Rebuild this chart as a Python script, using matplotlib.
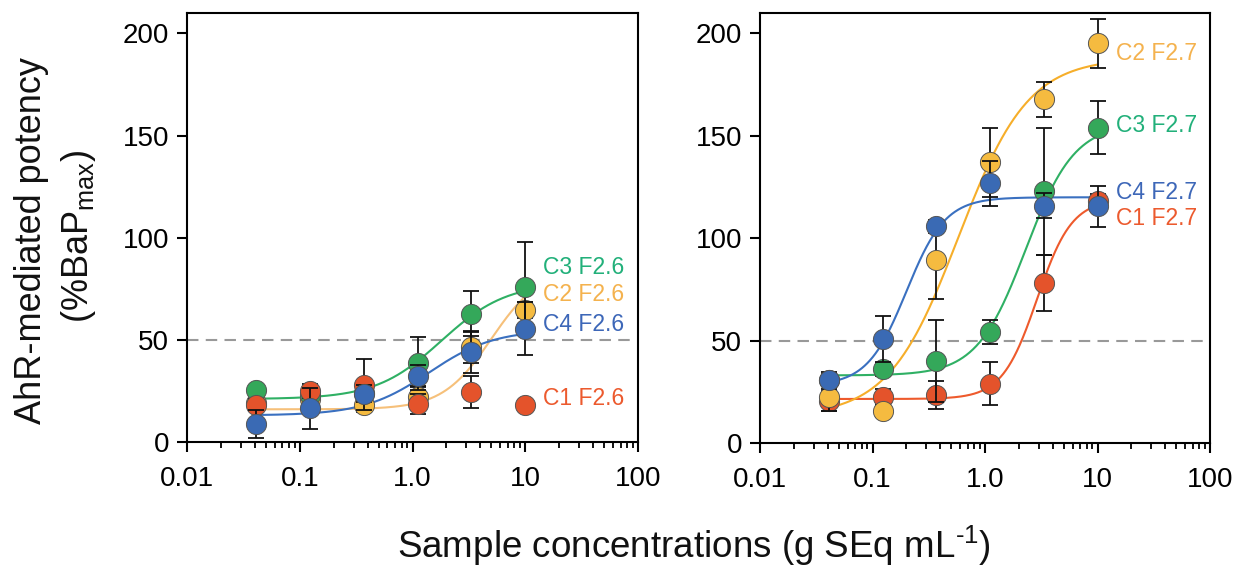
import numpy as np
import matplotlib
matplotlib.use("Agg")
import matplotlib.pyplot as plt
from matplotlib.ticker import LogLocator, FixedLocator, FixedFormatter, NullFormatter

plt.rcParams['font.family'] = ['Liberation Sans', 'DejaVu Sans']
plt.rcParams['mathtext.fontset'] = 'custom'
plt.rcParams['mathtext.rm'] = 'Liberation Sans'
plt.rcParams['mathtext.it'] = 'Liberation Sans'

# ---- data ----
conc = [0.041, 0.123, 0.37, 1.11, 3.33, 10]
series_names = ["C1", "C2", "C3", "C4"]

# Left panel (F2.6)
left_c1 = [18, 25, 28, 18.5, 24.5, 18]
left_c1_err = [3, 3.5, 12.5, 5, 8, 0]
left_c2 = [19, 21, 18, 21.8, 46.5, 64.7]
left_c2_err = [3, 3, 3.5, 5, 8, 4]
left_c3 = [25.4, 23, 24, 38.5, 62.8, 75.8]
left_c3_err = [2, 3, 3, 13, 11, 22]
left_c4 = [8.8, 16.4, 23.7, 32.5, 44, 55.5]
left_c4_err = [7, 10, 4, 5, 10, 13]

# Right panel (F2.7)
right_c1 = [20.5, 22.5, 23.5, 29, 78, 118.4]
right_c1_err = [5, 4, 7, 10.5, 13.7, 3]
right_c2 = [22.5, 15.7, 89.3, 137, 167.8, 195.3]
right_c2_err = [7, 3, 19, 17, 8.5, 12]
right_c3 = [30.6, 35.9, 40, 54.2, 123, 154]
right_c3_err = [3, 3, 20, 6, 31, 13]
right_c4 = [30.6, 50.8, 105.8, 126.9, 115.9, 115.5]
right_c4_err = [4, 11, 3, 11, 6, 10]

# fitted dose-response parameters: bottom, top, EC50, hill (None = no fit)
left_fit = {"C1": None, "C2": (16, 85, 5.0, 2.0), "C3": (21, 78, 1.8, 1.5), "C4": (13, 55, 1.4, 1.5)}
right_fit = {"C1": (21.5, 119, 2.9, 2.8), "C2": (13, 188, 0.58, 1.4),
             "C3": (33, 156, 2.3, 2.0), "C4": (28, 120, 0.2, 2.5)}

left_labels = {"C3": ("C3 F2.6", 85.5), "C2": ("C2 F2.6", 72.2), "C4": ("C4 F2.6", 57.5), "C1": ("C1 F2.6", 21.5)}
right_labels = {"C2": ("C2 F2.7", 190), "C3": ("C3 F2.7", 155), "C4": ("C4 F2.7", 122.5), "C1": ("C1 F2.7", 109.5)}

xticks = [0.01, 0.1, 1, 10, 100]
xticklabels = ["0.01", "0.1", "1.0", "10", "100"]
yticks = [0, 50, 100, 150, 200]

marker_colors = {"C1": "#e4532b", "C2": "#f5bb40", "C3": "#34a85a", "C4": "#3a6ab4"}
line_colors = {"C1": "#ee5a2c", "C2": "#f6ae2a", "C3": "#2fb064", "C4": "#3a70c0"}
text_colors = {"C1": "#ec5a2e", "C2": "#f4b24e", "C3": "#22b07a", "C4": "#3d67b8"}
left_line_colors = dict(line_colors, C2="#f6c07a")

W, H = 1236, 567
fig = plt.figure(figsize=(W / 100, H / 100), dpi=100)
ax1 = fig.add_axes([187 / W, 1 - 442 / H, 451 / W, 429 / H])
ax2 = fig.add_axes([760 / W, 1 - 443 / H, 450 / W, 430 / H])


def logistic(x, b, t, ec, h):
    return b + (t - b) / (1 + (ec / x) ** h)


def draw(ax, vals, errs, fits, labels, lcolors, draw_order):
    xs = np.logspace(np.log10(conc[0]), np.log10(conc[-1]), 400)
    for i, name in enumerate(["C1", "C2", "C3", "C4"]):
        f = fits[name]
        if f is not None:
            ax.plot(xs, logistic(xs, *f), color=lcolors[name], lw=1.5, zorder=2 + i * 0.01)
    for i, name in enumerate(draw_order):
        y = vals[name]
        e = errs[name]
        ax.errorbar(conc, y, yerr=e, fmt='none', ecolor='#111111', elinewidth=1.3,
                    capsize=6, capthick=1.3, zorder=3 + i)
        ax.plot(conc, y, 'o', ms=14.5, mfc=marker_colors[name], mec='#555555', mew=0.7,
                zorder=3.5 + i)
    for name, (txt, yv) in labels.items():
        ax.text(14.5, yv, txt, color=text_colors[name], fontsize=16.5, ha='left', va='center')
    ax.axhline(50, color='#999999', lw=1.5, ls=(0, (5.5, 3.5)), zorder=1)
    ax.set_xscale('log')
    ax.set_xlim(0.01, 100)
    ax.set_ylim(0, 210)
    ax.xaxis.set_major_locator(FixedLocator(xticks))
    ax.xaxis.set_major_formatter(FixedFormatter(xticklabels))
    ax.xaxis.set_minor_locator(LogLocator(base=10, subs=np.arange(2, 10)))
    ax.xaxis.set_minor_formatter(NullFormatter())
    ax.set_yticks(yticks)
    ax.tick_params(axis='both', which='major', labelsize=20, width=1.5, length=7, direction='out')
    ax.tick_params(axis='x', which='major', pad=10)
    ax.tick_params(axis='y', which='major', pad=6)
    ax.tick_params(axis='x', which='minor', width=1.3, length=4.5)
    for s in ax.spines.values():
        s.set_linewidth(1.5)


draw(ax1,
     {"C1": left_c1, "C2": left_c2, "C3": left_c3, "C4": left_c4},
     {"C1": left_c1_err, "C2": left_c2_err, "C3": left_c3_err, "C4": left_c4_err},
     left_fit, left_labels, left_line_colors, ["C2", "C3", "C1", "C4"])
draw(ax2,
     {"C1": right_c1, "C2": right_c2, "C3": right_c3, "C4": right_c4},
     {"C1": right_c1_err, "C2": right_c2_err, "C3": right_c3_err, "C4": right_c4_err},
     right_fit, right_labels, line_colors, ["C1", "C3", "C2", "C4"])

fig.text(32 / W, 1 - 240 / H, "AhR-mediated potency", rotation=90, ha='center', va='center',
         fontsize=26, color='#111111')
fig.text(79 / W, 1 - 236 / H, r"(%BaP$_{\mathrm{max}}$)", rotation=90, ha='center', va='center',
         fontsize=26, color='#111111')
fig.text(694 / W, 1 - 546 / H, "Sample concentrations (g SEq mL$^{\\mathrm{\u2010}\\mathrm{1}}$)",
         ha='center', va='center', fontsize=26.5, color='#111111')

fig.savefig("out.png", dpi=100)
